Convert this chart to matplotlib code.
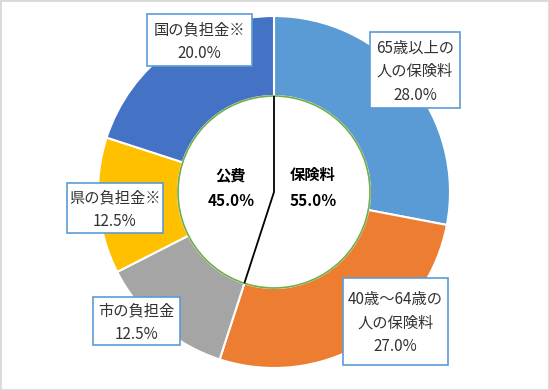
import numpy as np
import matplotlib.pyplot as plt
from matplotlib.patches import Circle, Rectangle

plt.rcParams['font.family'] = ['Noto Sans CJK JP', 'DejaVu Sans']

# data: clockwise from 12 o'clock
labels = ["65歳以上の\n人の保険料", "40歳～64歳の\n人の保険料", "市の負担金", "県の負担金※", "国の負担金※"]
shares = [28.0, 27.0, 12.5, 12.5, 20.0]
colors = ["#5B9BD5", "#ED7D31", "#A5A5A5", "#FFC000", "#4472C4"]
groups = ["保険料", "公費"]
group_shares = [55.0, 45.0]

W, H = 549, 390
cx, cy = 274, H - 192
R_out, R_in = 176, 96

fig = plt.figure(figsize=(W / 100, H / 100), dpi=100)
ax = fig.add_axes([0, 0, 1, 1])
ax.pie(shares, colors=colors, startangle=90, counterclock=False,
       radius=R_out, center=(cx, cy),
       wedgeprops=dict(width=R_out - R_in, edgecolor="white", linewidth=1.5))
ax.add_patch(Circle((cx, cy), R_in, facecolor="white", edgecolor="#70AD47", linewidth=1.2, zorder=3))

# divider between 保険料 and 公費
theta = np.deg2rad(90 - 360 * group_shares[0] / 100)
ax.plot([cx, cx, cx + R_in * np.cos(theta)],
        [cy + R_in, cy, cy + R_in * np.sin(theta)],
        color="black", lw=1.3, zorder=4, solid_capstyle="butt")

for x, g, s in [(313, groups[0], group_shares[0]), (231, groups[1], group_shares[1])]:
    ax.text(x, H - 175, g, ha="center", va="center", fontsize=11, fontweight="bold", color="black", zorder=5)
    ax.text(x, H - 201, f"{s:.1f}％", ha="center", va="center", fontsize=11, fontweight="bold", color="black", zorder=5)

# label boxes (pixel layout: x0, y0, x1, y1)
boxes = [(370, 32, 460, 108), (343, 278, 448, 365), (93, 297, 180, 345),
         (67, 183, 163, 233), (147, 14, 252, 66)]
spacing = 23.5
for lab, val, (x0, y0, x1, y1) in zip(labels, shares, boxes):
    ax.add_patch(Rectangle((x0, H - y1), x1 - x0, y1 - y0, facecolor="white",
                           edgecolor="#5B9BD5", linewidth=1.2, zorder=6))
    lines = lab.split("\n") + [f"{val:.1f}%"]
    n = len(lines)
    mid = (y0 + y1) / 2 + 1.5
    for i, line in enumerate(lines):
        yy = mid + (i - (n - 1) / 2) * spacing
        ax.text((x0 + x1) / 2, H - yy, line, ha="center", va="center",
                fontsize=11, color="#333333", zorder=7)

ax.set_xlim(0, W)
ax.set_ylim(0, H)
ax.set_aspect("equal")
ax.axis("off")
fig.patches.append(Rectangle((0, 0), 1, 1, transform=fig.transFigure, fill=False,
                             edgecolor="#D9D9D9", linewidth=2))
fig.savefig("out.png", dpi=100)
